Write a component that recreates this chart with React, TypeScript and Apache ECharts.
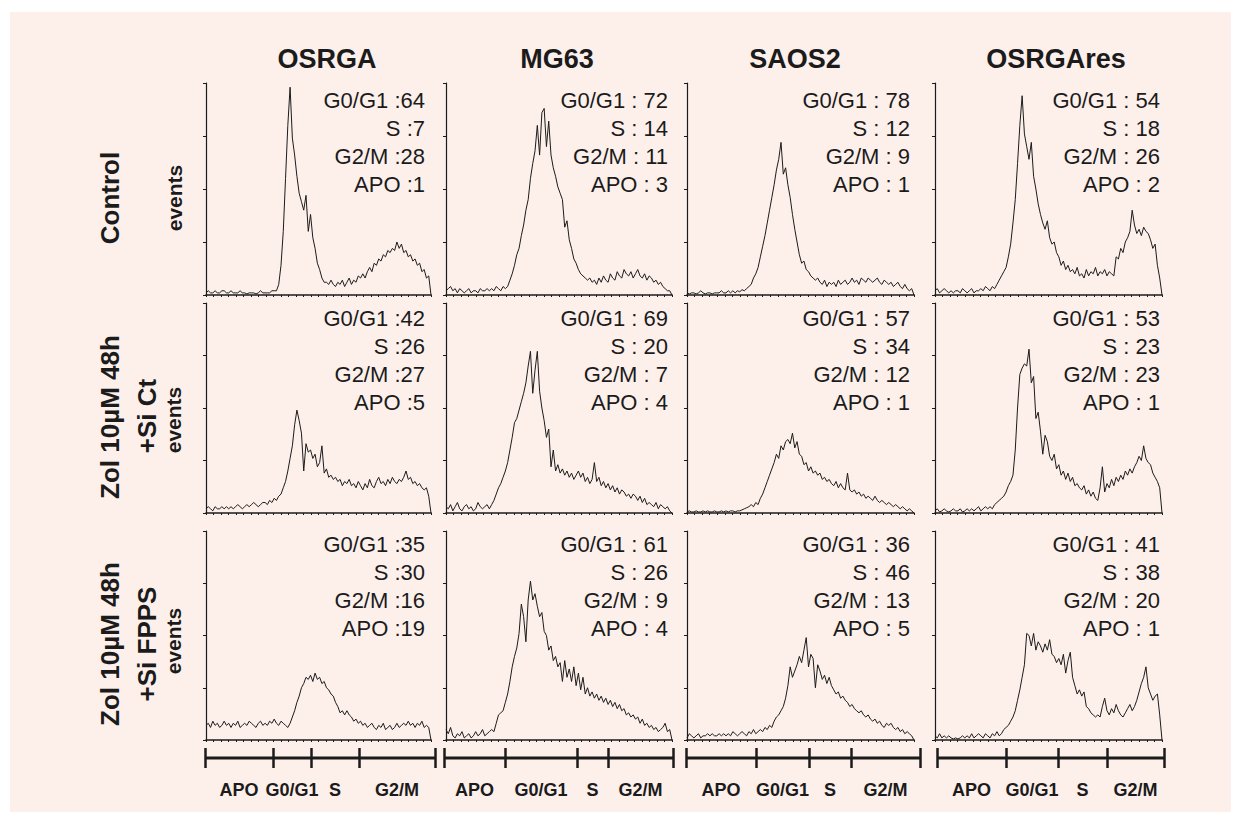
import React, { useEffect, useRef } from "react";
import * as echarts from "echarts";

// Column (cell line) and row (treatment) titles
const cellLines = ["OSRGA", "MG63", "SAOS2", "OSRGAres"];
const treatments = [["Control"], ["Zol 10µM 48h", "+Si Ct"], ["Zol 10µM 48h", "+Si FPPS"]];
const yAxisName = "events";
const phaseNames = ["APO", "G0/G1", "S", "G2/M"];

// Cell-cycle distribution (%) per [treatment][cell line]
const pctG0G1 = [[64, 72, 78, 54], [42, 69, 57, 53], [35, 61, 36, 41]];
const pctS = [[7, 14, 12, 18], [26, 20, 34, 23], [30, 26, 46, 38]];
const pctG2M = [[28, 11, 9, 26], [27, 7, 12, 23], [16, 9, 13, 20]];
const pctAPO = [[1, 3, 1, 2], [5, 4, 1, 1], [19, 4, 5, 1]];

// Gate boundaries on the DNA-content scale (0-100) of each cell line
const gatesOSRGA = [0, 29.6, 46.1, 67.0, 100];
const gatesMG63 = [0, 26.6, 58.1, 71.6, 100];
const gatesSAOS2 = [0, 29.9, 52.6, 70.5, 100];
const gatesOSRGAres = [0, 30.4, 53.3, 74.9, 100];

// DNA histograms (events, % of axis height), 100 channels each
const osrgaControl = [1,2,1,1,2,1,1,2,2,1,1,2,1,1,1,2,1,1,0.5,1,1,1,0.5,1,2,1,1,1,1,2,2,
  2,5,14,30,55,80,98,74,66,56,48,44,40,47,30,38,27,22,15,12,8,6,
  6,5,7,5,4,6,5,7,4,6,8,5,7,6,9,
  8,10,8,11,13,11,15,14,17,16,19,18,21,20,22,21,25,22,24,20,21,18,19,16,17,14,15,11,12,8,9,0];
const mg63Control = [2,3,4,2,3,1,3,2,1,2,3,1,2,2,1,3,2,2,3,2,3,2,4,3,2,4,3,
  4,7,10,14,19,22,28,33,40,45,55,62,68,80,66,86,88,70,82,66,60,56,51,48,45,32,35,26,22,17,15,12,10,9,8,7,8,6,
  7,5,8,6,9,7,6,10,8,7,11,9,8,12,10,9,11,8,10,12,9,8,10,7,9,8,6,7,5,6,4,3,2,
  2,0];
const saos2Control = [1,0.5,1,1,0.5,1,2,1,0.5,1,1,0.5,1,1,1,2,1,1,2,1,2,1,2,
  1.5,2.5,2,3,4,5,8,10,13,18,23,28,34,40,46,52,59,64,72,57,60,52,46,38,31,25,19,15,16,12,11,9,8,7,8,6,
  5,7,4,6,5,6,4,7,5,6,7,5,6,8,6,7,5,8,7,6,8,7,6,7,8,6,5,7,6,5,6,4,5,6,4,3,5,3,2,
  3,0];
const osrgaresControl = [2,3,1,2,3,2,1,2,1,2,2,1,3,2,1,2,3,1,2,2,3,2,4,3,2,4,3,
  5,7,9,11,13,18,24,34,45,62,80,94,76,70,64,72,56,50,43,38,34,31,35,27,24,25,20,18,14,16,
  12,14,11,12,10,13,9,10,8,12,9,11,10,13,9,11,10,12,9,11,10,9,18,17,22,20,25,27,30,40,
  33,29,31,28,32,30,29,26,22,24,14,8,0];

const osrgaSiCt = [2,3,2,1,3,2,2,3,2,3,2,3,2,3,4,3,2,3,4,3,4,5,4,3,4,5,5,4,6,5,7,
  6,8,9,12,15,20,26,32,42,49,44,38,20,33,29,30,26,28,22,24,32,19,21,17,18,16,17,15,16,13,
  15,14,16,13,14,12,15,13,11,14,12,16,13,12,15,17,14,15,13,16,14,17,15,14,16,15,17,20,16,17,
  14,15,13,14,12,11,12,8,0];
const mg63SiCt = [3,2,4,1,3,5,2,1,3,4,2,3,1,2,5,3,2,3,4,
  2,4,6,9,12,14,17,20,24,30,36,43,45,49,53,57,62,70,77,57,68,77,58,50,44,36,40,22,30,20,
  23,19,21,18,20,17,19,16,18,20,17,19,15,17,14,16,24,15,17,13,15,12,14,11,13,10,12,9,11,10,
  8,9,7,9,8,6,8,5,7,4,5,4,3,5,2,4,3,2,3,1,0];
const saos2SiCt = [0.5,1,0.5,0.5,1,0.5,0.5,1,0.5,1,0.5,0.5,1,0.5,0.5,1,0.5,1,0.5,1,1,0.5,1,
  1,1.5,2,2.5,3,4,3,5,4,7,9,12,15,18,21,24,28,26,32,30,34,35,33,38,31,34,28,27,23,24,
  20,22,19,20,18,19,16,17,15,16,14,13,15,12,14,12,11,19,11,10,11,9,10,8,9,7,8,7,6,8,
  6,5,6,5,4,5,4,3,4,3,2,3,2,1,2,1,0];
const osrgaresSiCt = [1,2,0.5,1,2,1,0.5,1,2,1,1,2,0.5,1,2,1,2,1,2,3,1,2,3,2,
  3,2,4,5,6,7,8,10,13,15,18,30,50,66,69,71,70,78,62,65,45,48,39,28,37,34,27,25,28,21,
  23,18,20,16,19,15,17,13,14,12,11,13,9,11,8,10,7,6,12,22,10,14,12,16,13,17,15,18,16,20,
  18,21,19,22,24,27,25,32,26,24,23,19,17,15,12,0];

const osrgaSiFpps = [7,8,6,9,7,8,6,7,9,7,8,6,8,7,9,6,7,8,7,9,8,7,6,8,9,7,8,7,9,8,10,8,7,9,8,7,6,
  8,11,14,18,21,25,27,30,29,31,28,32,29,30,27,28,25,24,22,21,18,16,13,14,12,14,12,11,9,10,
  8,9,7,8,6,7,8,6,5,7,6,8,5,6,7,5,6,8,6,7,8,7,9,7,8,6,8,7,9,6,7,6,0];
const mg63SiFpps = [5,3,6,2,1,3,2,4,1,2,3,1,2,4,2,3,5,2,3,4,5,
  4,8,12,13,14,18,22,28,35,40,44,51,65,59,47,67,76,67,70,64,59,61,52,50,43,45,38,40,35,37,
  28,38,30,34,28,35,26,32,24,30,22,25,21,23,20,22,19,21,18,20,17,19,16,18,15,17,14,15,12,13,
  11,12,10,11,8,10,7,8,6,7,5,6,4,5,6,8,4,5,0];
const saos2SiFpps = [1,3,2,1,2,3,1,2,2,3,2,3,2,2,3,2,3,2,3,2,4,3,2,3,4,3,2,4,3,5,
  3,4,5,4,6,5,7,6,9,11,12,14,16,20,26,35,30,33,36,40,37,43,49,35,41,39,25,36,33,29,
  31,27,30,26,24,22,23,20,21,19,18,16,17,15,14,13,14,12,11,12,10,9,10,8,9,7,6,8,7,8,
  6,5,6,4,5,3,4,3,2,0];
const osrgaresSiFpps = [2,1,3,1,2,1,2,1,0.5,1,0.5,1,2,1,2,1,3,1,2,3,2,1,3,2,1,3,2,4,2,
  3,5,6,7,9,11,14,19,24,30,36,51,50,45,51,43,47,45,42,46,43,48,41,40,37,39,36,41,32,38,
  42,30,26,22,24,21,23,16,15,13,12,11,12,11,16,20,14,12,15,13,17,14,12,11,13,15,17,14,16,19,
  23,27,30,35,25,22,19,21,22,12,0];

const histograms = [
  [osrgaControl, mg63Control, saos2Control, osrgaresControl],
  [osrgaSiCt, mg63SiCt, saos2SiCt, osrgaresSiCt],
  [osrgaSiFpps, mg63SiFpps, saos2SiFpps, osrgaresSiFpps],
];
const gates = [gatesOSRGA, gatesMG63, gatesSAOS2, gatesOSRGAres];

// Layout (pixels)
const FONT = '"Liberation Sans", Arial, Helvetica, sans-serif';
const INK = "#1b1b1b";
const PAPER = "#fdf0eb";
const COLS = [[206, 431], [446, 672], [687, 914], [935, 1162]];
const ROWS = [[83, 295], [303, 513], [531, 740]];
const BARS = [[205, 435], [444, 673], [686, 920], [937, 1164]];
const HEADER_X = [327, 557, 795, 1056];
const HEADER_Y = 59;
const STAT_RIGHT = [425, 668, 910, 1160];
const STAT_TOP = [100, 318, 544];
const STAT_STEP = 28.3;
const LABEL_Y = [[198], [417, 416], [644, 644]];
const EVENTS_Y = [198, 420, 641];
const LABEL_X = [110, 147];
const EVENTS_X = [174, 173, 173];

function buildOption() {
  const grid: any[] = [];
  const xAxis: any[] = [];
  const yAxis: any[] = [];
  const series: any[] = [];
  let gi = 0;

  ROWS.forEach(([y0, y1], r) => {
    COLS.forEach(([x0, x1], c) => {
      grid.push({ left: x0, top: y0, width: x1 - x0, height: y1 - y0 });
      xAxis.push({
        type: "value", gridIndex: gi, min: 0, max: 99, interval: 3.3,
        axisLine: { show: true, onZero: false, lineStyle: { color: INK, width: 1.6 } },
        axisTick: { show: true, length: 2, lineStyle: { color: INK, width: 1 } },
        axisLabel: { show: false }, splitLine: { show: false },
      });
      yAxis.push({
        type: "value", gridIndex: gi, min: 0, max: 100, interval: 25,
        axisLine: { show: true, lineStyle: { color: INK, width: 1.2 } },
        axisTick: { show: true, length: 3, lineStyle: { color: INK, width: 1 } },
        axisLabel: { show: false }, splitLine: { show: false },
      });
      series.push({
        type: "line", xAxisIndex: gi, yAxisIndex: gi, silent: true,
        data: histograms[r][c].map((v, i) => [i, v]),
        symbol: "none", lineStyle: { color: INK, width: 1 },
      });
      gi++;
    });
  });

  // Gate bars with phase labels under each column
  BARS.forEach(([x0, x1], c) => {
    const g = gates[c];
    const mids = phaseNames.map((_, k) => (g[k] + g[k + 1]) / 2);
    grid.push({ left: x0, top: 748, width: x1 - x0, height: 20 });
    xAxis.push({
      type: "value", gridIndex: gi, min: 0, max: 100,
      axisLine: { show: false }, axisTick: { show: false }, splitLine: { show: false },
      axisLabel: {
        show: true, customValues: mids, margin: 13,
        formatter: (v: number) => {
          const k = mids.findIndex((m) => Math.abs(m - v) < 1e-6);
          return k >= 0 ? phaseNames[k] : "";
        },
        color: INK, fontSize: 18, fontWeight: "bold", fontFamily: FONT,
      },
    });
    yAxis.push({ type: "value", gridIndex: gi, min: -1, max: 1, show: false });
    series.push({
      type: "line", xAxisIndex: gi, yAxisIndex: gi, silent: true,
      data: [[0, 0], [100, 0]], symbol: "none",
      lineStyle: { color: INK, width: 3 },
      markLine: {
        silent: true, symbol: ["none", "none"], label: { show: false },
        lineStyle: { color: INK, width: 2.5, type: "solid" },
        data: g.map((v) => ({ xAxis: v })),
      },
    });
    gi++;
  });

  const graphic: any[] = [
    { type: "rect", z: -10, silent: true, shape: { x: 10, y: 12, width: 1221, height: 800 }, style: { fill: PAPER } },
  ];
  const txt = (text: string, x: number, y: number, font: string, align: string, rot = 0) => ({
    type: "text", x, y, rotation: rot, silent: true,
    style: { text, font, fill: INK, align, verticalAlign: "middle", textAlign: align, textVerticalAlign: "middle" },
  });

  cellLines.forEach((name, c) => graphic.push(txt(name, HEADER_X[c], HEADER_Y, `bold 27px ${FONT}`, "center")));

  treatments.forEach((lines, r) => {
    lines.forEach((line, k) =>
      graphic.push(txt(line, LABEL_X[k], LABEL_Y[r][k], `bold 26px ${FONT}`, "center", Math.PI / 2)));
    graphic.push(txt(yAxisName, EVENTS_X[r], EVENTS_Y[r], `bold 21px ${FONT}`, "center", Math.PI / 2));
  });

  for (let r = 0; r < 3; r++) {
    for (let c = 0; c < 4; c++) {
      const sep = c === 0 ? " :" : " : ";
      const lines = [
        `G0/G1${sep}${pctG0G1[r][c]}`,
        `S${sep}${pctS[r][c]}`,
        `G2/M${sep}${pctG2M[r][c]}`,
        `APO${sep}${pctAPO[r][c]}`,
      ];
      lines.forEach((line, k) =>
        graphic.push(txt(line, STAT_RIGHT[c], STAT_TOP[r] + k * STAT_STEP, `22px ${FONT}`, "right")));
    }
  }

  return {
    animation: false,
    backgroundColor: "#ffffff",
    grid, xAxis, yAxis, series, graphic,
  };
}

export default function App() {
  const ref = useRef<HTMLDivElement>(null);
  useEffect(() => {
    document.body.style.margin = "0";
    if (!ref.current) return;
    const chart = echarts.init(ref.current, undefined, { renderer: "svg" });
    chart.setOption(buildOption() as any);
    return () => chart.dispose();
  }, []);
  return <div ref={ref} style={{ width: 1241, height: 824 }} />;
}
